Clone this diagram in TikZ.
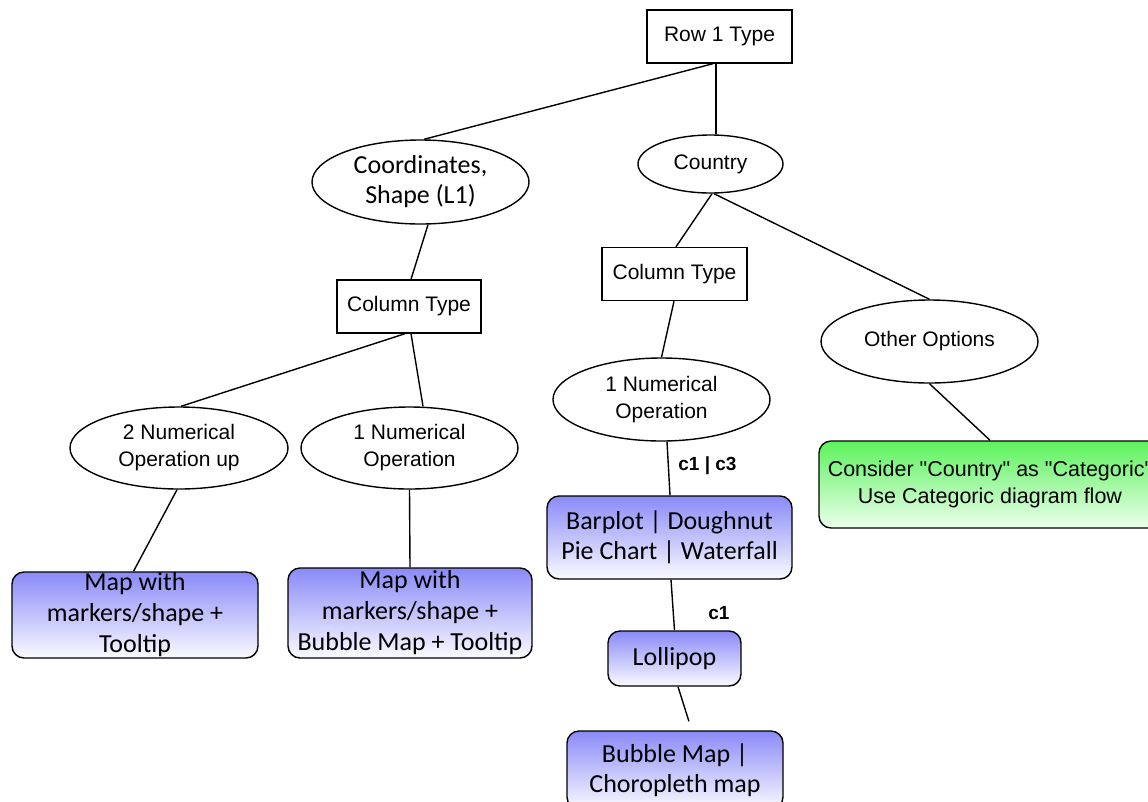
\documentclass[tikz,border=0pt]{standalone}
\usepackage{fontspec}
\setmainfont{Liberation Sans}[Ligatures=TeXOff]
\newfontfamily\carl{Carlito}
\usetikzlibrary{shapes.geometric}
\definecolor{bluetop}{RGB}{138,138,248}
\definecolor{bluebot}{RGB}{250,250,255}
\definecolor{greentop}{RGB}{92,242,92}
\definecolor{greenbot}{RGB}{236,255,236}
\tikzset{
  lib/.style={font=\fontsize{21}{27}\selectfont},
  cal/.style={font=\carl\fontsize{26}{30}\selectfont},
  sqbox/.style={draw, rectangle, line width=1.4, inner sep=0, lib},
  ell/.style={draw, ellipse, line width=1.4, inner sep=0, align=center, lib},
  bluebox/.style={draw, rectangle, rounded corners=12, line width=1.4, inner sep=0,
    top color=bluetop, bottom color=bluebot, align=center, cal},
  mapbox/.style={bluebox, font=\carl\fontsize{26}{31}\selectfont},
  greenbox/.style={draw, rectangle, rounded corners=12, line width=1.4, inner sep=0,
    top color=greentop, bottom color=greenbot, align=center, font=\fontsize{21.5}{27}\selectfont},
  conn/.style={line width=1.4},
  elabel/.style={font=\bfseries\fontsize{19}{22}\selectfont}
}
\begin{document}
\begin{tikzpicture}[x=1pt, y=-1pt]
\useasboundingbox (0,0) rectangle (1148,801);
\clip (0,0) rectangle (1148,801);
\fill[white] (0,0) rectangle (1148,801);

% nodes
\node[sqbox, minimum width=145, minimum height=53] (row1) at (719.5,36.5) {Row 1 Type};
\node[ell, cal, minimum width=217, minimum height=84] (coord) at (420.5,182) {Coordinates,\\Shape (L1)};
\node[ell, minimum width=145, minimum height=58] (country) at (710.5,164) {Country};
\node[sqbox, minimum width=144, minimum height=53] (ctL) at (409,306.5) {Column Type};
\node[sqbox, minimum width=145, minimum height=53] (ctR) at (674.5,274) {Column Type};
\node[ell, minimum width=217, minimum height=83] (other) at (929.5,341.5) {Other Options};
\node[ell, minimum width=218, minimum height=82] (num2) at (179,448) {2 Numerical\\Operation up};
\node[ell, minimum width=217, minimum height=82] (num1L) at (409.5,448) {1 Numerical\\Operation};
\node[ell, minimum width=217, minimum height=83] (num1R) at (661.5,399.5) {1 Numerical\\Operation};
\node[mapbox, minimum width=246, minimum height=86] (mapA) at (135,615) {Map with\\markers/shape +\\Tooltip};
\node[mapbox, minimum width=244, minimum height=90] (mapB) at (410,613) {Map with\\markers/shape +\\Bubble Map + Tooltip};
\node[bluebox, minimum width=245, minimum height=83] (bar) at (669.5,537.5) {Barplot | Doughnut\\Pie Chart | Waterfall};
\node[bluebox, minimum width=133, minimum height=55] (lolli) at (674.5,658.5) {Lollipop};
\node[bluebox, minimum width=216, minimum height=78] (bubble) at (675,770) {Bubble Map |\\Choropleth map};
\node[greenbox, minimum width=342, minimum height=87] (green) at (990,484.5) {Consider "Country" as "Categoric"\\Use Categoric diagram flow};

% connectors
\draw[conn] ([xshift=-6.5]row1.south) -- ([xshift=3.5]coord.north);
\draw[conn] ([xshift=-3.5]row1.south) -- ([xshift=5.5]country.north);
\draw[conn] ([xshift=7.5]coord.south) -- ([xshift=2]ctL.north);
\draw[conn] ([xshift=1.5]country.south) -- ([xshift=1.5]ctR.north);
\draw[conn] ([xshift=3.5]country.south) -- (other.north);
\draw[conn] (other.south) -- (green.north);
\draw[conn] ([xshift=-0.5]ctR.south) -- (num1R.north);
\draw[conn] ([xshift=5.5]num1R.south) -- node[elabel, right=6pt, pos=0.45] (lab1) {c1 | c3} ([xshift=0.5]bar.north);
\draw[conn] ([xshift=1.5]bar.south) -- node[elabel, right=31pt, pos=0.65] (lab2) {c1} (lolli.north);
\draw[conn, shorten >=9.4] ([xshift=3.5]lolli.south) -- ([xshift=16.75]bubble.north);
\draw[conn] ([xshift=-4]ctL.south) -- ([xshift=2]num2.north);
\draw[conn] ([xshift=2]ctL.south) -- ([xshift=13.5]num1L.north);
\draw[conn] ([xshift=-2]num2.south) -- ([xshift=-1.5]mapA.north);
\draw[conn] (num1L.south) -- (mapB.north);
\end{tikzpicture}
\end{document}
